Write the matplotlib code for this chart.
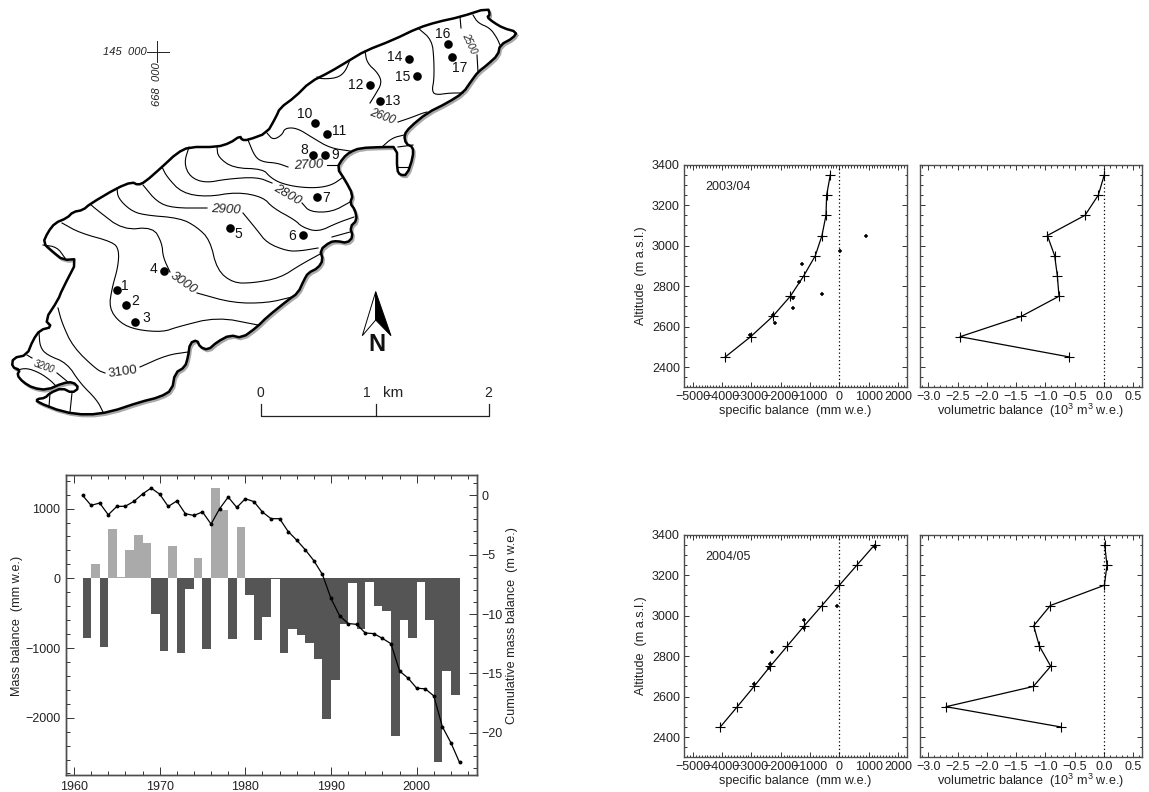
#!/usr/bin/env python3
# -*- coding: utf-8 -*-
import numpy as np
import matplotlib
matplotlib.use('Agg')
import matplotlib.pyplot as plt
from matplotlib.ticker import MultipleLocator, FixedLocator, FuncFormatter

plt.rcParams['font.family'] = ['Liberation Sans', 'DejaVu Sans']
plt.rcParams['mathtext.fontset'] = 'custom'
plt.rcParams['mathtext.rm'] = 'Liberation Sans'
plt.rcParams['mathtext.default'] = 'regular'
plt.rcParams['axes.unicode_minus'] = True

# ---- mass balance series
years_bar = list(range(1961, 2005))
balance = [-852, 206, -990, 703, 24, 407, 622, 502, -512, -1043, 464, -1067, -153, 297, -1019,
           1292, 976, -871, 732, -239, -885, -555, -5, -1077, -727, -813, -923, -1163, -2014,
           -1455, -655, -72, -732, -48, -397, -474, -2268, -603, -852, -57, -603, -2636, -1335, -1675]
years_cum = list(range(1961, 2006))
cumulative = [0, -0.85, -0.65, -1.64, -0.94, -0.92, -0.51, 0.11, 0.61, 0.10, -0.94, -0.48, -1.55,
              -1.70, -1.40, -2.42, -1.13, -0.15, -1.02, -0.29, -0.53, -1.41, -1.97, -1.97, -3.05,
              -3.78, -4.59, -5.51, -6.67, -8.69, -10.14, -10.8, -10.87, -11.6, -11.65, -12.05,
              -12.5, -14.8, -15.4, -16.25, -16.3, -16.9, -19.5, -20.85, -22.5]

# ---- altitude profiles
altitude = [3350, 3250, 3150, 3050, 2950, 2850, 2750, 2650, 2550, 2450]
spec_0304 = [-307, -432, -455, -592, -820, -1217, -1672, -2275, -3026, -3891]
vol_0304 = [0.005, -0.097, -0.324, -0.967, -0.842, -0.796, -0.768, -1.416, -2.457, -0.592]
stake_x_0304 = [922, 11, -1285, -1388, -1593, -592, -1593, -2184, -3038, -2275]
stake_y_0304 = [3050, 2975, 2911, 2818, 2743, 2762, 2690, 2618, 2557, 2655]
spec_0405 = [1206, 603, 0, -592, -1195, -1775, -2355, -2912, -3481, -4061]
vol_0405 = [0.011, 0.051, 0.006, -0.916, -1.2, -1.104, -0.91, -1.206, -2.696, -0.739]
stake_x_0405 = [-91, -1195, -2287, -2355, -2389, -2920, 1206, -1195]
stake_y_0405 = [3050, 2977, 2818, 2759, 2740, 2660, 3340, 2940]

outline = [(83,210), (90,204), (117,188), (132,182), (138,185), (145,182), (162,167), (177,153), (189,147),
           (217,147), (230,143), (240,136), (242,140), (248,140), (267,133), (276,117), (280,108), (295,97),
           (310,82), (330,72), (350,60), (365,51), (393,40), (418,28), (437,22), (460,17), (488,8), (490,15),
           (487,17), (493,22), (503,28), (517,32), (513,38), (500,45), (498,55), (487,65), (478,72), (472,80),
           (463,93), (447,103), (427,113), (410,127), (404,135), (406,144), (413,147), (413,157), (407,175),
           (400,175), (397,170), (397,147), (383,147), (360,148), (350,152), (343,158), (337,168), (345,180),
           (353,195), (350,203), (355,210), (357,220), (350,227), (353,237), (347,243), (337,241), (330,242),
           (320,250), (323,260), (318,268), (308,273), (304,280), (298,293), (288,300), (267,317), (257,327),
           (242,338), (230,335), (217,342), (208,350), (200,347), (197,340), (190,343), (188,357), (185,367),
           (175,373), (172,390), (160,397), (140,402), (110,412), (87,415), (63,412), (37,402), (37,399),
           (45,398), (50,393), (62,388), (72,393), (79,388), (73,382), (63,383), (47,390), (33,388), (23,382),
           (17,375), (20,370), (12,367), (13,358), (27,355), (33,340), (40,330), (52,327), (45,320), (58,300),
           (62,290), (78,259), (63,260), (53,252), (43,243), (48,232), (55,223), (67,218), (73,212)]

contours = [
    [(460,17), (461,28)],
    [(477,55), (478,72)],
    [(473,15), (478,23), (490,28), (497,38), (500,45)],
    [(418,28), (432,40), (434,60), (434,80), (432,90), (435,95), (450,93), (463,93)],
    [(365,51), (367,63), (378,73), (382,83), (375,95), (370,103)],
    [(398,122), (410,118), (423,113), (427,112)],
    [(350,60), (345,72), (337,78), (322,79), (317,77)],
    [(267,133), (273,140), (282,135), (285,128), (297,128), (313,138), (330,148), (350,151)],
    [(248,140), (255,157), (263,162), (277,163), (288,167)],
    [(327,165), (337,165)],
    [(217,147), (218,157), (233,168), (263,169), (270,177), (280,183), (297,187), (317,188), (332,185), (342,178)],
    [(189,147), (184,163), (190,177), (205,183), (227,179), (257,177), (272,183)],
    [(302,203), (310,212), (332,212), (350,202)],
    [(162,167), (167,177), (182,193), (207,197), (237,192), (263,197), (273,208), (295,220), (302,227), (318,232), (337,223), (354,217)],
    [(143,185), (157,202), (173,208), (207,208)],
    [(243,213), (257,230), (267,243), (287,251), (300,251), (318,248)],
    [(117,188), (118,198), (130,210), (143,215), (180,218), (197,227), (210,240), (217,270), (233,283), (253,283), (280,278), (300,265), (322,253)],
    [(90,204), (97,210), (123,230), (153,227), (162,243), (163,257), (170,272)],
    [(197,293), (233,303), (267,303), (292,297)],
    [(62,223), (80,233), (113,242), (119,250), (118,267), (112,288), (109,308), (120,323), (137,330), (163,332), (177,327), (217,317), (258,325)],
    [(58,308), (62,323), (73,347), (97,370), (105,373)],
    [(140,367), (167,355), (188,352)],
    [(39,332), (40,347), (47,355), (67,363), (80,383), (97,400), (103,412)],
    [(27,355), (32,358)],
    [(57,373), (68,382)],
    [(17,370), (27,368), (40,373), (50,380), (55,385)],
    [(50,393), (49,407)],
    [(72,393), (70,412)],
    [(43,245), (57,247), (65,258)],
    [(382,147), (392,138), (404,135)],
    [(398,147), (413,145)],
    [(397,167), (408,167)],
    [(332,237), (350,232)],
]

stake_x = [117.3, 125.7, 135.3, 163.7, 229.7, 302.7, 317.3, 312.7, 325.3, 315, 326.7, 369.7, 380, 409, 416.7, 447.7, 452.3]
stake_y = [290, 304.7, 321.7, 271.3, 228.3, 235.3, 196.7, 154.7, 155.3, 122.7, 134, 85, 100.7, 59, 76, 44.3, 57.3]
stake_lx = [125, 135.3, 146.3, 153.7, 238.7, 292.3, 326, 304.3, 334.7, 305, 338.7, 355.7, 392.7, 394.3, 402.7, 442.7, 460]
stake_ly = [286.3, 301, 318, 268.7, 234, 236, 198.3, 150.3, 155.3, 114, 130.7, 85, 100.7, 56.7, 76.7, 34.3, 68.3]

contour_labels = ['2500', '2600', '2700', '2800', '2900', '3000', '3100', '3200']
contour_lx = [469, 382, 308.3, 287, 225.7, 183, 122.7, 44]
contour_ly = [43.3, 116.7, 165.7, 195, 210, 283, 371.5, 366.5]
contour_rot = [-65, -20, 3, -30, -3, -35, 8, -20]
contour_size = [7, 8.5, 9.5, 9.5, 9.5, 9.5, 9.5, 7]
contour_style = ['italic', 'italic', 'italic', 'italic', 'italic', 'italic', 'normal', 'italic']

W, H = 1149.0, 792.0
fig = plt.figure(figsize=(W/100, H/100), dpi=100)


def px_axes(left, top, right, bottom):
    return fig.add_axes([left/W, 1-bottom/H, (right-left)/W, (bottom-top)/H])


def frame(ax):
    for s in ax.spines.values():
        s.set_color('#4d4d4d')
        s.set_linewidth(1.0)


# corner cutting so the traced lines draw as curves
def rounded(pts, closed=False, passes=2):
    p = np.array(pts, dtype=float)
    for n in range(passes):
        if closed:
            q = np.roll(p, -1, axis=0)
            p = np.column_stack([0.75*p+0.25*q, 0.25*p+0.75*q]).reshape(-1, 2)
        else:
            a, b = p[:-1], p[1:]
            mid = np.column_stack([0.75*a+0.25*b, 0.25*a+0.75*b]).reshape(-1, 2)
            p = np.vstack([p[:1], mid, p[-1:]])
    return p


# ---------- map
mp = fig.add_axes([0, 0, 1, 1])
mp.set_xlim(0, W)
mp.set_ylim(H, 0)
mp.axis('off')

shape = rounded(outline, closed=True, passes=1)
mp.fill(shape[:, 0]+1.6, shape[:, 1]+2.0, facecolor='#aaaaaa', edgecolor='#aaaaaa', lw=1.6, zorder=1)
mp.fill(shape[:, 0], shape[:, 1], facecolor='white', edgecolor='black', lw=1.8, joinstyle='round', zorder=2)
for c in contours:
    r = rounded(c)
    mp.plot(r[:, 0], r[:, 1], color='black', lw=0.8, zorder=3)

for t, x, y, r, s, st in zip(contour_labels, contour_lx, contour_ly, contour_rot, contour_size, contour_style):
    mp.text(x, y, t, rotation=r, fontsize=s, style=st, ha='center', va='center', color='#222222',
            rotation_mode='anchor', zorder=4)

mp.plot(stake_x, stake_y, 'o', color='black', ms=6.2, mew=0, zorder=5)
for i in range(len(stake_x)):
    mp.text(stake_lx[i], stake_ly[i], str(i+1), fontsize=10, ha='center', va='center', color='#111111', zorder=5)

# coordinate cross
mp.plot([147, 169], [52.3, 52.3], color='#222222', lw=0.7)
mp.plot([157.3, 157.3], [40.7, 61.7], color='#222222', lw=0.7)
mp.text(146.5, 52.3, '145  000', fontsize=8, style='italic', ha='right', va='center', color='#222222')
mp.text(157.3, 62.5, '668  000', fontsize=8, style='italic', rotation=90, ha='center', va='top', color='#222222')

# north arrow
mp.fill([375.7, 362.3, 375.7], [291.7, 335.7, 320], facecolor='white', edgecolor='black', lw=0.7)
mp.fill([375.7, 391, 375.7], [291.7, 335.7, 320], facecolor='black', edgecolor='black', lw=0.7)
mp.text(377, 344.5, 'N', fontsize=17, fontweight='bold', ha='center', va='center', color='#111111')

# scale bar
mp.plot([260.7, 260.7, 489.3, 489.3], [404, 416, 416, 404], color='#222222', lw=0.9)
mp.plot([375.7, 375.7], [404, 416], color='#222222', lw=0.9)
mp.text(260, 392.7, '0', fontsize=10, ha='center', va='center', color='#222222')
mp.text(367, 392.7, '1', fontsize=10, ha='center', va='center', color='#222222')
mp.text(393.3, 392.7, 'km', fontsize=11, ha='center', va='center', color='#222222')
mp.text(488.3, 392.7, '2', fontsize=10, ha='center', va='center', color='#222222')

# ---------- mass balance bars
ax = px_axes(66, 475, 477, 775)
colors = ['#aaaaaa' if b > 0 else '#555555' for b in balance]
ax.bar(years_bar, balance, width=1.0, align='edge', color=colors, linewidth=0)
ax.set_xlim(1959.07, 2007.04)
ax.set_ylim(-2822, 1482)
ax.xaxis.set_major_locator(MultipleLocator(10))
ax.xaxis.set_minor_locator(MultipleLocator(2))
ax.yaxis.set_major_locator(MultipleLocator(1000))
ax.yaxis.set_minor_locator(MultipleLocator(200))
ax.tick_params(axis='x', which='major', direction='in', top=True, length=5.5, width=0.7, labelsize=9, pad=4, color='#333333', labelcolor='#222222')
ax.tick_params(axis='x', which='minor', direction='in', top=True, length=2.8, width=0.7, color='#333333')
ax.tick_params(axis='y', which='major', direction='in', length=5.8, width=0.7, labelsize=9, pad=4, color='#333333', labelcolor='#222222')
ax.tick_params(axis='y', which='minor', direction='in', length=2.9, width=0.7, color='#333333')
frame(ax)
fig.text(17/W, 1-625.5/H+0.0, 'Mass balance  (mm w.e.)', rotation=90, ha='center', va='center', fontsize=9.1, color='#222222')

ax2 = ax.twinx()
ax2.plot(years_cum, cumulative, '-o', color='black', lw=0.9, ms=2.8, mew=0)
ax2.set_ylim(-23.56, 1.71)
ax2.yaxis.set_major_locator(MultipleLocator(5))
ax2.yaxis.set_minor_locator(MultipleLocator(1))
ax2.tick_params(axis='y', which='major', direction='in', length=5.8, width=0.7, labelsize=9, pad=3, color='#333333', labelcolor='#222222')
ax2.tick_params(axis='y', which='minor', direction='in', length=2.9, width=0.7, color='#333333')
frame(ax2)
fig.text(512/W, 1-625/H, 'Cumulative mass balance  (m w.e.)', rotation=90, ha='center', va='center', fontsize=9.1, color='#222222')


# ---------- profiles
def profile_pair(top, bottom, year, spec, vol, sx, sy):
    a = px_axes(684, top, 906.7, bottom)
    a.axvline(0, color='black', ls=':', lw=0.9, dashes=(1, 2))
    a.plot(spec, altitude, '-+', color='black', lw=0.9, ms=6.5, mew=0.8)
    a.plot(sx, sy, '+', color='black', ms=3.2, mew=1.1, ls='none')
    a.set_xlim(-5300, 2300)
    a.set_ylim(2300, 3400)
    a.xaxis.set_major_locator(FixedLocator([-5000, -4000, -3000, -2000, -1000, 0, 1000, 2000]))
    a.xaxis.set_minor_locator(MultipleLocator(100))
    a.yaxis.set_major_locator(MultipleLocator(200))
    a.yaxis.set_minor_locator(MultipleLocator(50))
    a.tick_params(axis='both', which='major', direction='in', top=True, right=True, length=3.6, width=0.7,
                  labelsize=9, pad=3, color='#333333', labelcolor='#222222')
    a.tick_params(axis='both', which='minor', direction='in', top=True, right=True, length=1.8, width=0.7, color='#333333')
    frame(a)
    a.text(705, top+22, year, transform=mp.transData, fontsize=9, ha='left', va='center', color='#222222')
    a.text(795, bottom+23.7, 'specific balance  (mm w.e.)', transform=mp.transData, fontsize=9.1,
           ha='center', va='center', color='#222222', clip_on=False)
    a.text(641, (top+bottom)/2-0.5, 'Altitude  (m a.s.l.)', transform=mp.transData, fontsize=9.1, rotation=90,
           ha='center', va='center', color='#222222', clip_on=False)

    b = px_axes(920, top, 1141.7, bottom)
    b.axvline(0, color='black', ls=':', lw=0.9, dashes=(1, 2))
    b.plot(vol, altitude, '-+', color='black', lw=0.9, ms=6.5, mew=0.8)
    b.set_xlim(-3.14, 0.643)
    b.set_ylim(2300, 3400)
    b.xaxis.set_major_locator(MultipleLocator(0.5))
    b.xaxis.set_minor_locator(MultipleLocator(0.1))
    b.yaxis.set_major_locator(MultipleLocator(200))
    b.yaxis.set_minor_locator(MultipleLocator(50))
    b.xaxis.set_major_formatter(FuncFormatter(lambda v, pos: ('%.1f' % (v + 0.0)).replace('-', '\u2212')))
    b.tick_params(axis='both', which='major', direction='in', top=True, right=True, length=3.6, width=0.7,
                  labelsize=9, pad=3, color='#333333', labelcolor='#222222', labelleft=False)
    b.tick_params(axis='both', which='minor', direction='in', top=True, right=True, length=1.8, width=0.7, color='#333333')
    frame(b)
    b.text(1030.7, bottom+23.7, 'volumetric balance  (10$^3$ m$^3$ w.e.)', transform=mp.transData, fontsize=9.1,
           ha='center', va='center', color='#222222', clip_on=False)


profile_pair(164.7, 387.3, '2003/04', spec_0304, vol_0304, stake_x_0304, stake_y_0304)
profile_pair(534.7, 757.3, '2004/05', spec_0405, vol_0405, stake_x_0405, stake_y_0405)

fig.savefig('out.png', dpi=100)
